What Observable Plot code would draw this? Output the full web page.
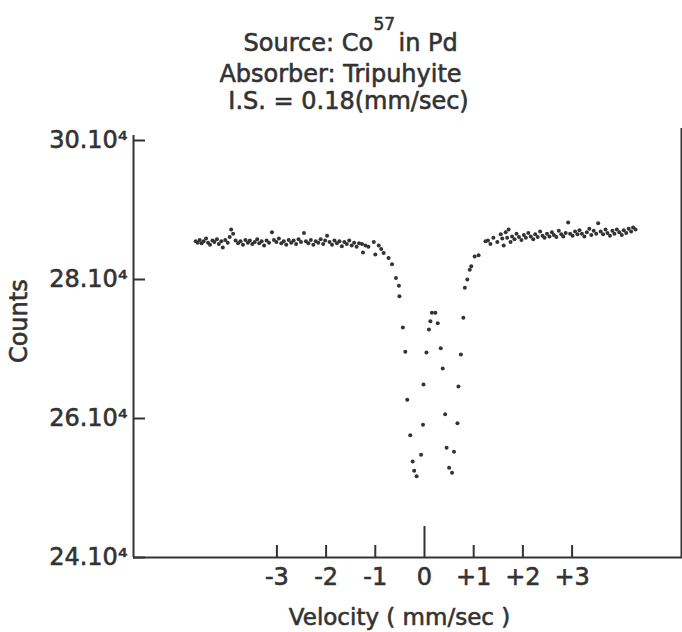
<!DOCTYPE html>
<html>
<head>
<meta charset="utf-8">
<script src="https://cdn.jsdelivr.net/npm/d3@7"></script>
<script src="https://cdn.jsdelivr.net/npm/@observablehq/plot@0.6"></script>
<style>
  html, body { margin: 0; padding: 0; background: #ffffff; }
  #chart svg { display: block; }
</style>
</head>
<body>
<div id="chart"></div>
<script>
// ---- Data (velocity in mm/sec, counts in units of 10^4) ----
const leftV = [-4.65,-4.61,-4.57,-4.53,-4.49,-4.44,-4.40,-4.36,-4.31,-4.27,-4.22,-4.18,-4.13,-4.10,-4.05,-4.00,-3.96,-3.93,-3.89,-3.84,-3.79,-3.74,-3.69,-3.64,-3.59,-3.55,-3.50,-3.45,-3.40,-3.36,-3.31,-3.26,-3.21,-3.16,-3.10,-3.06,-3.01,-2.96,-2.91,-2.86,-2.81,-2.76,-2.71,-2.66,-2.61,-2.56,-2.51,-2.45,-2.41,-2.36,-2.31,-2.26,-2.21,-2.16,-2.11,-2.06,-2.02,-1.98,-1.93,-1.88,-1.83,-1.78,-1.73,-1.68,-1.63,-1.58,-1.53,-1.48,-1.43,-1.38,-1.33];
const leftC = [28.55,28.53,28.57,28.52,28.55,28.59,28.53,28.50,28.56,28.54,28.58,28.51,28.55,28.46,28.57,28.53,28.61,28.72,28.66,28.56,28.52,28.55,28.50,28.57,28.53,28.56,28.51,28.54,28.58,28.52,28.55,28.49,28.56,28.53,28.68,28.57,28.54,28.59,28.52,28.55,28.50,28.57,28.53,28.56,28.51,28.58,28.54,28.67,28.55,28.52,28.57,28.50,28.55,28.53,28.58,28.51,28.56,28.63,28.54,28.50,28.56,28.52,28.55,28.48,28.54,28.51,28.56,28.49,28.53,28.47,28.52];

const dipV = [-1.27,-1.25,-1.20,-1.14,-1.03,-1.00,-0.93,-0.88,-0.83,-0.73,-0.66,-0.58,-0.52,-0.51,-0.44,-0.39,-0.35,-0.29,-0.24,-0.21,-0.16,-0.07,-0.03,-0.02,0.04,0.09,0.12,0.15,0.22,0.27,0.33,0.37,0.42,0.45,0.50,0.56,0.60,0.67,0.69,0.74,0.79,0.82,0.87,0.92,0.95,1.02,1.10,1.24,1.29,1.34,1.40,1.48,1.55,1.58,1.61,1.65,1.68,1.71,1.75];
const dipC = [28.51,28.39,28.49,28.47,28.54,28.36,28.49,28.44,28.38,28.31,28.22,28.02,27.91,27.76,27.31,26.96,26.27,25.76,25.38,25.25,25.17,25.48,25.91,26.49,26.95,27.28,27.40,27.52,27.52,27.37,27.01,26.72,26.06,25.58,25.29,25.22,25.52,25.93,26.46,26.92,27.45,27.88,28.00,28.14,28.19,28.33,28.35,28.55,28.56,28.51,28.60,28.54,28.65,28.59,28.49,28.68,28.60,28.72,28.54];

const rightV = [1.78,1.83,1.87,1.92,1.97,2.02,2.06,2.11,2.16,2.21,2.25,2.30,2.35,2.40,2.44,2.49,2.54,2.59,2.63,2.68,2.73,2.78,2.82,2.87,2.92,2.96,3.01,3.06,3.11,3.15,3.20,3.25,3.30,3.35,3.39,3.44,3.49,3.53,3.58,3.63,3.68,3.72,3.77,3.82,3.86,3.91,3.96,4.01,4.05,4.10,4.15,4.20,4.24,4.29];
const rightC = [28.62,28.58,28.66,28.61,28.57,28.64,28.60,28.67,28.62,28.58,28.65,28.61,28.69,28.63,28.60,28.66,28.62,28.68,28.64,28.61,28.70,28.65,28.62,28.67,28.82,28.66,28.63,28.69,28.65,28.71,28.66,28.62,28.68,28.73,28.64,28.70,28.66,28.81,28.69,28.65,28.72,28.67,28.63,28.70,28.66,28.72,28.68,28.64,28.71,28.67,28.73,28.69,28.75,28.72];

const xTicks = [-3,-2,-1,0,1,2,3];
const xTickLabels = ["-3","-2","-1","0","+1","+2","+3"];
const yTicks = [24,26,28,30];
const yTickLabels = ["24.10⁴","26.10⁴","28.10⁴","30.10⁴"];

const xDomain = [-5.915, 5.224];
const yDomain = [24, 30];

// ---- Build table ----
const points = [];
[[leftV,leftC],[dipV,dipC],[rightV,rightC]].forEach(([vs,cs]) => {
  vs.forEach((v,i) => points.push({v, c: cs[i]}));
});

// ---- Layout ----
const W = 682, H = 632;
const mL = 133, mR = 1, mT = 140, mB = 75;
const pxPerV = (W - mL - mR) / (xDomain[1] - xDomain[0]);
const pxPerC = (H - mT - mB) / (yDomain[1] - yDomain[0]);
const ink = "#333";
const font = "DejaVu Sans";
const txt = {fill: ink, stroke: ink, strokeWidth: 0.6};

const chart = Plot.plot({
  width: W,
  height: H,
  marginLeft: mL,
  marginRight: mR,
  marginTop: mT,
  marginBottom: mB,
  x: {domain: xDomain, axis: null},
  y: {domain: yDomain, axis: null},
  style: {background: "#ffffff", fontFamily: font, color: ink},
  marks: [
    // frame lines
    Plot.ruleY([yDomain[0]], {stroke: ink, strokeWidth: 2, insetRight: -1}),
    Plot.ruleX([xDomain[0]], {y1: yDomain[0], y2: yDomain[1] + 5 / pxPerC, stroke: ink, strokeWidth: 2}),
    Plot.ruleX([xDomain[1]], {y1: yDomain[0], y2: yDomain[1] + 12 / pxPerC, stroke: ink, strokeWidth: 2}),
    // inward ticks
    Plot.ruleY(yTicks, {x1: xDomain[0], x2: xDomain[0] + 12 / pxPerV, stroke: ink, strokeWidth: 2}),
    Plot.ruleX(xTicks, {y1: yDomain[0], y2: d => yDomain[0] + (d === 0 ? 31 : 12) / pxPerC, stroke: ink, strokeWidth: 2}),
    // tick labels
    Plot.text(yTicks, {y: d => d, text: (d, i) => yTickLabels[i], frameAnchor: "left", textAnchor: "end", lineAnchor: "middle", dx: -6, fontSize: 24, ...txt}),
    Plot.text(xTicks, {x: d => d, text: (d, i) => xTickLabels[i], frameAnchor: "bottom", textAnchor: "middle", lineAnchor: "middle", dy: 20, fontSize: 24, ...txt}),
    // axis titles
    Plot.text(["Counts"], {y: [27.4], frameAnchor: "left", textAnchor: "middle", lineAnchor: "middle", dx: 19 - mL, rotate: -90, fontSize: 24, ...txt}),
    Plot.text(["Velocity ( mm/sec )"], {frameAnchor: "bottom", textAnchor: "middle", lineAnchor: "middle", dx: -8, dy: 60, fontSize: 23, ...txt}),
    // title block
    Plot.text(["Source: Co"], {frameAnchor: "top-left", textAnchor: "start", lineAnchor: "bottom", dx: 243 - mL, dy: 50 - mT, fontSize: 24, ...txt}),
    Plot.text(["57"], {frameAnchor: "top-left", textAnchor: "start", lineAnchor: "bottom", dx: 373 - mL, dy: 29 - mT, fontSize: 17, ...txt}),
    Plot.text(["in Pd"], {frameAnchor: "top-left", textAnchor: "start", lineAnchor: "bottom", dx: 398 - mL, dy: 50 - mT, fontSize: 24, ...txt}),
    Plot.text(["Absorber: Tripuhyite"], {frameAnchor: "top-left", textAnchor: "middle", lineAnchor: "bottom", dx: 340 - mL, dy: 81 - mT, fontSize: 24, ...txt}),
    Plot.text(["I.S. = 0.18(mm/sec)"], {frameAnchor: "top-left", textAnchor: "middle", lineAnchor: "bottom", dx: 348 - mL, dy: 108 - mT, fontSize: 24, ...txt}),
    // data
    Plot.dot(points, {x: "v", y: "c", r: 2, fill: ink, stroke: "none"})
  ]
});

document.getElementById("chart").appendChild(chart);
</script>
</body>
</html>
